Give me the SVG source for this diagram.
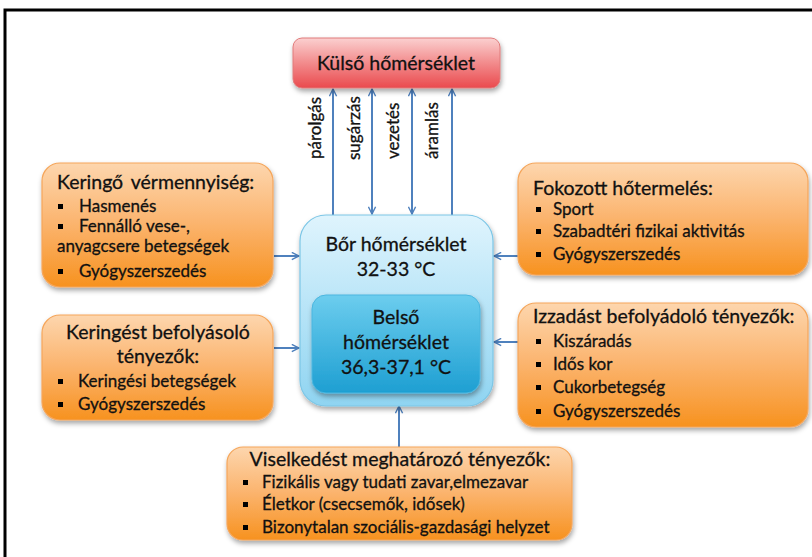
<svg xmlns="http://www.w3.org/2000/svg" width="812" height="557" viewBox="0 0 812 557">
<style>
text{font-family:Lato,"Open Sans","DejaVu Sans",sans-serif;fill:#111;stroke:#111;stroke-width:0.3}
.t{font-size:19.5px}
.i{font-size:17px}
.c{text-anchor:middle}
.orange{fill:url(#og);stroke:#f5a65b;stroke-width:1.2;filter:url(#sh)}
.conn{stroke:#4f81bd;stroke-width:2;fill:none}
.lbl{font-size:17px}
</style>
<defs>
<linearGradient id="og" x1="0" y1="0" x2="0" y2="1">
<stop offset="0" stop-color="#fdd6ae"/>
<stop offset="0.5" stop-color="#fbb36c"/>
<stop offset="1" stop-color="#f7921f"/>
</linearGradient>
<linearGradient id="rg" x1="0" y1="0" x2="0" y2="1">
<stop offset="0" stop-color="#fbd0d0"/>
<stop offset="0.5" stop-color="#f28b8c"/>
<stop offset="1" stop-color="#ea4a4e"/>
</linearGradient>
<linearGradient id="bg1" x1="0" y1="0" x2="0" y2="1">
<stop offset="0" stop-color="#dff4fd"/>
<stop offset="1" stop-color="#8fd4f1"/>
</linearGradient>
<linearGradient id="bg2" x1="0" y1="0" x2="0" y2="1">
<stop offset="0" stop-color="#6ccdee"/>
<stop offset="1" stop-color="#1e9fd2"/>
</linearGradient>
<filter id="sh" x="-10%" y="-10%" width="120%" height="130%">
<feDropShadow dx="1" dy="3" stdDeviation="2.5" flood-color="#000" flood-opacity="0.35"/>
</filter>
<marker id="ah" viewBox="0 0 10 10" refX="9" refY="5" markerWidth="9" markerHeight="9" markerUnits="userSpaceOnUse" orient="auto-start-reverse">
<path d="M1,1 L9,5 L1,9" fill="none" stroke="#4f81bd" stroke-width="1.6"/>
</marker>
</defs>
<rect x="0" y="0" width="812" height="557" fill="#fff"/>
<rect x="5" y="10" width="830" height="570" fill="none" stroke="#000" stroke-width="3"/>

<g id="connectors">
<line class="conn" x1="333" y1="215" x2="333" y2="89" marker-end="url(#ah)"/>
<line class="conn" x1="372" y1="214" x2="372" y2="89" marker-start="url(#ah)" marker-end="url(#ah)"/>
<line class="conn" x1="412" y1="214" x2="412" y2="89" marker-start="url(#ah)" marker-end="url(#ah)"/>
<line class="conn" x1="452" y1="215" x2="452" y2="89" marker-end="url(#ah)"/>
<line class="conn" x1="274" y1="256" x2="299" y2="256" marker-end="url(#ah)"/>
<line class="conn" x1="274" y1="348" x2="299" y2="348" marker-end="url(#ah)"/>
<line class="conn" x1="518" y1="256" x2="494" y2="256" marker-end="url(#ah)"/>
<line class="conn" x1="518" y1="342" x2="494" y2="342" marker-end="url(#ah)"/>
<line class="conn" x1="399" y1="447" x2="399" y2="406" marker-end="url(#ah)"/>
<text class="lbl" transform="translate(321,159) rotate(-90)">párolgás</text>
<text class="lbl" transform="translate(360,160) rotate(-90)">sugárzás</text>
<text class="lbl" transform="translate(399,159) rotate(-90)">vezetés</text>
<text class="lbl" transform="translate(438,159) rotate(-90)">áramlás</text>
</g>

<g id="kulso">
<rect x="293" y="38" width="207" height="50" rx="9" fill="url(#rg)" stroke="#e07b7b" stroke-width="1" filter="url(#sh)"/>
<text class="t c" x="396" y="70">Külső hőmérséklet</text>
</g>

<g id="bor">
<rect x="300" y="215" width="193" height="191" rx="26" fill="url(#bg1)" stroke="#7cc6e6" stroke-width="1.2" filter="url(#sh)"/>
<text class="t c" x="396" y="251">Bőr hőmérséklet</text>
<text class="t c" x="396" y="276">32-33 °C</text>
</g>

<g id="belso">
<rect x="312" y="295" width="168" height="98" rx="14" fill="url(#bg2)" stroke="#4bb6df" stroke-width="1" filter="url(#sh)"/>
<text class="t c" x="396" y="324">Belső</text>
<text class="t c" x="396" y="349">hőmérséklet</text>
<text class="t c" x="396" y="374">36,3-37,1 °C</text>
</g>

<g id="keringo">
<rect class="orange" x="42" y="163" width="231" height="124" rx="18"/>
<text class="t" x="57" y="189" word-spacing="3">Keringő vérmennyiség:</text>
<rect x="58" y="204" width="5" height="5" fill="#000"/>
<text class="i" x="79" y="212">Hasmenés</text>
<rect x="58" y="224" width="5" height="5" fill="#000"/>
<text class="i" x="79" y="232">Fennálló vese-,</text>
<text class="i" x="57" y="252">anyagcsere betegségek</text>
<rect x="58" y="269" width="5" height="5" fill="#000"/>
<text class="i" x="79" y="277">Gyógyszerszedés</text>
</g>

<g id="keringest">
<rect class="orange" x="42" y="315" width="231" height="105" rx="18"/>
<text class="t c" x="158" y="339">Keringést befolyásoló</text>
<text class="t c" x="158" y="363">tényezők:</text>
<rect x="58" y="379" width="5" height="5" fill="#000"/>
<text class="i" x="78" y="387">Keringési betegségek</text>
<rect x="58" y="402" width="5" height="5" fill="#000"/>
<text class="i" x="78" y="410">Gyógyszerszedés</text>
</g>

<g id="fokozott">
<rect class="orange" x="518" y="163" width="290" height="112" rx="18"/>
<text class="t" x="533" y="195">Fokozott hőtermelés:</text>
<rect x="536" y="207" width="5" height="5" fill="#000"/>
<text class="i" x="553" y="215">Sport</text>
<rect x="536" y="229" width="5" height="5" fill="#000"/>
<text class="i" x="553" y="237">Szabadtéri fizikai aktivitás</text>
<rect x="536" y="252" width="5" height="5" fill="#000"/>
<text class="i" x="553" y="260">Gyógyszerszedés</text>
</g>

<g id="izzadast">
<rect class="orange" x="518" y="303" width="290" height="124" rx="18"/>
<text class="t" x="533" y="323">Izzadást befolyádoló tényezők:</text>
<rect x="536" y="339" width="5" height="5" fill="#000"/>
<text class="i" x="553" y="347">Kiszáradás</text>
<rect x="536" y="362" width="5" height="5" fill="#000"/>
<text class="i" x="553" y="370">Idős kor</text>
<rect x="536" y="385" width="5" height="5" fill="#000"/>
<text class="i" x="553" y="393">Cukorbetegség</text>
<rect x="536" y="409" width="5" height="5" fill="#000"/>
<text class="i" x="553" y="417">Gyógyszerszedés</text>
</g>

<g id="viselkedest">
<rect class="orange" x="227" y="447" width="345" height="93" rx="16"/>
<text class="t c" x="400" y="466">Viselkedést meghatározó tényezők:</text>
<rect x="243" y="480" width="5" height="5" fill="#000"/>
<text class="i" x="262" y="488">Fizikális vagy tudati zavar,elmezavar</text>
<rect x="243" y="502" width="5" height="5" fill="#000"/>
<text class="i" x="262" y="510">Életkor (csecsemők, idősek)</text>
<rect x="243" y="525" width="5" height="5" fill="#000"/>
<text class="i" x="262" y="533">Bizonytalan szociális-gazdasági helyzet</text>
</g>
</svg>
